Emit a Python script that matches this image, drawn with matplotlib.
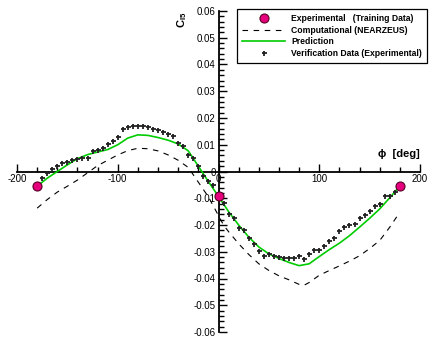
import matplotlib
matplotlib.use("Agg")
import matplotlib.pyplot as plt
from matplotlib.ticker import MultipleLocator
import numpy as np

plt.rcParams['font.family'] = ['Liberation Sans', 'DejaVu Sans']
plt.rcParams['mathtext.fontset'] = 'custom'
plt.rcParams['mathtext.bf'] = 'Liberation Sans:bold'
plt.rcParams['mathtext.rm'] = 'Liberation Sans'

# training data (experimental)
train_phi = [-180, 0, 180]
train_c = [-0.0055, -0.0093, -0.0055]

# computational (NEARZEUS)
comp_phi = [-180, -170, -160, -150, -140, -130, -120, -110, -100, -90, -80, -70, -60,
            -50, -40, -30, -20, -10, 0, 5, 10, 20, 30, 40, 50, 60, 70, 80, 85, 90,
            100, 110, 120, 130, 140, 150, 160, 170, 180]
comp_c = [-0.0137, -0.0105, -0.0077, -0.0055, -0.0032, -0.0005, 0.0022, 0.0042, 0.0062,
          0.0078, 0.0087, 0.0085, 0.0077, 0.0062, 0.0042, 0.0015, -0.0040, -0.0095,
          -0.0165, -0.0200, -0.0225, -0.0270, -0.0310, -0.0345, -0.0370, -0.0390,
          -0.0405, -0.0422, -0.0425, -0.0415, -0.0388, -0.0370, -0.0353, -0.0335,
          -0.0315, -0.0288, -0.0258, -0.0208, -0.0152]

# prediction
pred_phi = [-180, -170, -160, -150, -140, -130, -120, -110, -100, -90, -80, -70, -60,
            -50, -40, -30, -20, -10, 0, 10, 20, 30, 40, 50, 60, 70, 80, 90, 100, 110,
            120, 130, 140, 150, 160, 170, 180]
pred_c = [-0.0055, -0.0025, 0.0000, 0.0025, 0.0048, 0.0063, 0.0073, 0.0082, 0.0100,
          0.0125, 0.0137, 0.0135, 0.0127, 0.0117, 0.0103, 0.0077, 0.0020, -0.0038,
          -0.0093, -0.0150, -0.0200, -0.0245, -0.0282, -0.0308, -0.0325, -0.0340,
          -0.0352, -0.0345, -0.0318, -0.0292, -0.0268, -0.0240, -0.0208, -0.0175,
          -0.0140, -0.0098, -0.0055]

# verification data (experimental)
ver_phi = [-175, -170, -165, -160, -155, -150, -145, -140, -135, -130, -125, -120, -115,
           -110, -105, -100, -95, -90, -85, -80, -75, -70, -65, -60, -55, -50, -45, -40,
           -35, -30, -25, -20, -15, -10, -5, 5, 10, 15, 20, 25, 30, 35, 40, 45, 50, 55,
           60, 65, 70, 75, 80, 85, 90, 95, 100, 105, 110, 115, 120, 125, 130, 135, 140,
           145, 150, 155, 160, 165, 170, 175]
ver_c = [-0.0024, -0.0004, 0.0010, 0.0022, 0.0031, 0.0037, 0.0042, 0.0046, 0.0049, 0.0052,
         0.0075, 0.0080, 0.0088, 0.0103, 0.0113, 0.0128, 0.0160, 0.0167, 0.0170, 0.0170,
         0.0169, 0.0166, 0.0160, 0.0155, 0.0147, 0.0140, 0.0132, 0.0105, 0.0095, 0.0060,
         0.0052, 0.0022, -0.0015, -0.0034, -0.0052, -0.0118, -0.0158, -0.0175, -0.0212,
         -0.0218, -0.0247, -0.0272, -0.0299, -0.0315, -0.0310, -0.0315, -0.0318, -0.0323,
         -0.0323, -0.0323, -0.0317, -0.0327, -0.0307, -0.0295, -0.0295, -0.0277, -0.0258,
         -0.0247, -0.0222, -0.0208, -0.0200, -0.0195, -0.0172, -0.0164, -0.0146, -0.0128,
         -0.0121, -0.0092, -0.0090, -0.0075]

W, H = 429, 341
fig = plt.figure(figsize=(W / 100, H / 100), dpi=100)
ax = fig.add_axes([17 / W, 9 / H, 403 / W, 321 / H])
ax.set_xlim(-200, 200)
ax.set_ylim(-0.06, 0.06)

ax.plot(comp_phi, comp_c, color="black", lw=0.8, dashes=(5, 5),
        label="Computational (NEARZEUS)", zorder=2)
ax.plot(pred_phi, pred_c, color="#00cc00", lw=1.2, label="Prediction", zorder=3)
ax.plot(ver_phi, ver_c, ls="none", marker="+", ms=3.6, mew=1.3, color="#222222",
        label="Verification Data (Experimental)", zorder=4)
ax.plot(train_phi, train_c, ls="none", marker="o", ms=6.5, mfc="#e6007e", mec="#550022",
        mew=0.8, label="Experimental   (Training Data)", zorder=5, clip_on=False)

for s in ["top", "right"]:
    ax.spines[s].set_visible(False)
ax.spines["left"].set_position(("data", 0))
ax.spines["bottom"].set_position(("data", 0))
ax.spines["left"].set_linewidth(1.3)
ax.spines["bottom"].set_linewidth(1.3)

ax.xaxis.set_major_locator(MultipleLocator(100))
ax.xaxis.set_minor_locator(MultipleLocator(20))
ax.yaxis.set_major_locator(MultipleLocator(0.01))
ax.yaxis.set_minor_locator(MultipleLocator(0.002))
ax.tick_params(which="both", direction="in", labelsize=7, width=1)
ax.tick_params(which="major", length=6, pad=2)
ax.tick_params(which="minor", length=3.5)
ax.set_xticks([-200, -100, 0, 100, 200])
ax.set_xticklabels(["-200", "-100", "0", "100", "200"])
ax.set_yticks(np.arange(-0.06, 0.0601, 0.01))
ax.set_yticklabels(["%g" % round(v, 2) if abs(v) > 1e-9 else "0"
                    for v in np.arange(-0.06, 0.0601, 0.01)])

fig.text(182 / W, 1 - 20 / H, r"$\mathbf{C_{l5}}$", rotation=90, fontsize=8,
         ha="center", va="center")
fig.text(420 / W, 1 - 154 / H, "\u03d5  [deg]", fontsize=8, fontweight="bold",
         ha="right", va="center")

h, l = ax.get_legend_handles_labels()
order = [3, 0, 1, 2]
leg = fig.legend([h[i] for i in order], [l[i] for i in order], loc="upper left",
                 bbox_to_anchor=(237 / W, 1 - 9 / H), borderaxespad=0,
                 prop={"size": 6.2, "weight": "bold"}, handlelength=5.0,
                 handletextpad=0.7, labelspacing=0.3, borderpad=0.6,
                 fancybox=False, framealpha=1, edgecolor="black")
leg.get_frame().set_linewidth(0.9)

fig.savefig("out.png", dpi=100)
